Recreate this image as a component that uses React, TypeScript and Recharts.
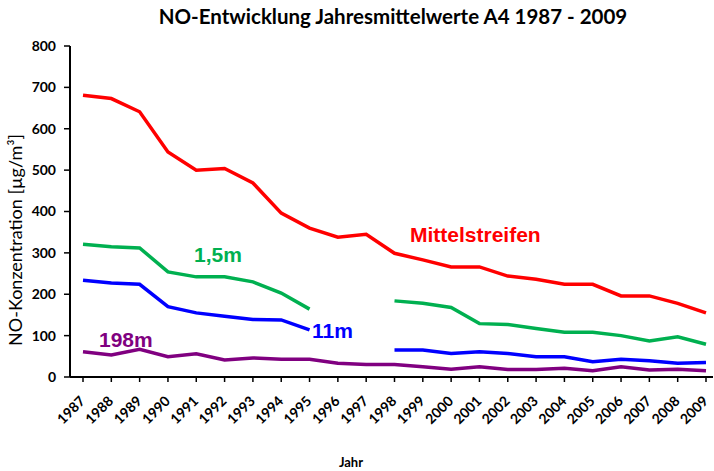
import React from 'react';
import { LineChart, Line, XAxis, YAxis } from 'recharts';

const years = [
  '1987', '1988', '1989', '1990', '1991', '1992', '1993', '1994', '1995', '1996', '1997', '1998',
  '1999', '2000', '2001', '2002', '2003', '2004', '2005', '2006', '2007', '2008', '2009',
];
const mittelstreifen = [681, 673, 641, 544, 500, 504, 469, 396, 360, 338, 345, 299, 283, 266, 266, 244, 236, 224, 224, 196, 196, 178, 155];
const hoehe1_5m = [321, 315, 312, 254, 242, 242, 230, 203, 164, null, null, 184, 178, 168, 129, 127, 117, 108, 108, 100, 87, 97, 79];
const hoehe11m = [234, 227, 224, 170, 155, 147, 139, 138, 114, null, null, 65, 65, 57, 61, 57, 49, 49, 37, 43, 39, 33, 35];
const hoehe198m = [61, 53, 67, 49, 56, 41, 46, 43, 43, 33, 30, 30, 25, 19, 25, 18, 18, 21, 15, 25, 17, 19, 15];
const yTicks = [0, 100, 200, 300, 400, 500, 600, 700, 800];

const data = years.map((year, i) => ({
  year,
  mittel: mittelstreifen[i],
  m15: hoehe1_5m[i],
  m11: hoehe11m[i],
  m198: hoehe198m[i],
}));

const font = 'Lato, "Open Sans", sans-serif';

const YearTick = (props: any) => {
  const { x, y, payload } = props;
  const tx = x + 3;
  const ty = y + 20;
  return (
    <text x={tx} y={ty} transform={`rotate(-45 ${tx} ${ty})`} textAnchor="end"
      fontSize={14} fontFamily={font} fontWeight="bold" fill="#000">
      {payload.value}
    </text>
  );
};

export default function App() {
  return (
    <div style={{ position: 'absolute', left: 0, top: 0, width: 714, height: 471, background: '#fff' }}>
      <LineChart width={714} height={471} data={data} margin={{ top: 46, right: 1, bottom: 64, left: 0 }}>
        <XAxis dataKey="year" interval={0} height={30} padding={{ left: 13, right: 7 }} tick={<YearTick />}
          tickSize={5} tickMargin={0} axisLine={{ stroke: '#000', strokeWidth: 2 }}
          tickLine={{ stroke: '#000', strokeWidth: 1.5 }} />
        <YAxis domain={[0, 800]} ticks={yTicks} width={70} tickSize={6} tickMargin={8}
          axisLine={{ stroke: '#000', strokeWidth: 2 }} tickLine={{ stroke: '#000', strokeWidth: 1.5 }}
          tick={{ fill: '#000', fontSize: 14, fontWeight: 'bold', fontFamily: font }} />
        <Line dataKey="mittel" stroke="#ff0000" strokeWidth={3.5} dot={false} isAnimationActive={false} />
        <Line dataKey="m15" stroke="#00b050" strokeWidth={3.5} dot={false} isAnimationActive={false} />
        <Line dataKey="m11" stroke="#0000ff" strokeWidth={3.5} dot={false} isAnimationActive={false} />
        <Line dataKey="m198" stroke="#800080" strokeWidth={3.5} dot={false} isAnimationActive={false} />
      </LineChart>
      <svg width={714} height={471} style={{ position: 'absolute', left: 0, top: 0, pointerEvents: 'none' }}>
        <text x={393} y={24} textAnchor="middle" fontSize={20.5} fontWeight="bold" fontFamily={font}>
          NO-Entwicklung Jahresmittelwerte A4 1987 - 2009
        </text>
        <text transform="translate(22 240) rotate(-90)" textAnchor="middle" fontSize={18} fontFamily={font}>
          NO-Konzentration [µg/m³]
        </text>
        <text x={351} y={467} textAnchor="middle" fontSize={13} fontWeight="bold" fontFamily={font}>Jahr</text>
        <g fontFamily='"Liberation Sans", Arial, sans-serif' fontWeight="bold" fontSize={21}>
          <text x={410} y={242} fill="#ff0000">Mittelstreifen</text>
          <text x={194} y={262} fill="#00b050">1,5m</text>
          <text x={312} y={338} fill="#0000ff">11m</text>
          <text x={99} y={347} fill="#800080">198m</text>
        </g>
      </svg>
    </div>
  );
}
